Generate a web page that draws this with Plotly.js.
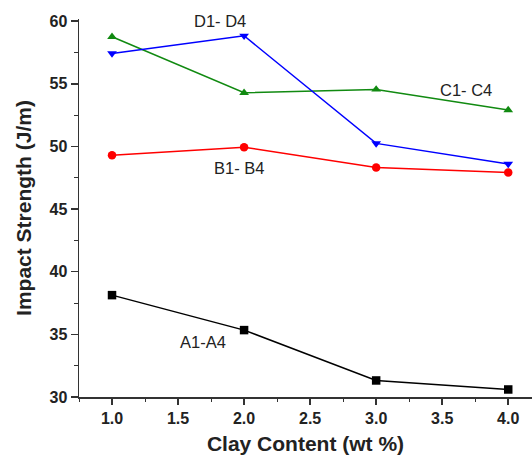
<!DOCTYPE html>
<html>
<head>
<meta charset="utf-8">
<script src="https://cdn.plot.ly/plotly-3.0.1.min.js"></script>
<style>html,body{margin:0;padding:0;background:#fff;}#chart{width:532px;height:457px;}</style>
</head>
<body>
<div id="chart"></div>
<script>
const clay = [1.0, 2.0, 3.0, 4.0];
const seriesA = [38.13, 35.34, 31.32, 30.6];
const seriesB = [49.3, 49.94, 48.32, 47.92];
const seriesC = [58.75, 54.28, 54.55, 52.9];
const seriesD = [57.42, 58.83, 50.24, 48.6];
const seriesNames = ["A1-A4", "B1- B4", "C1- C4", "D1- D4"];
const xTicks = [1.0, 1.5, 2.0, 2.5, 3.0, 3.5, 4.0];
const xTickText = ["1.0", "1.5", "2.0", "2.5", "3.0", "3.5", "4.0"];
const yTicks = [30, 35, 40, 45, 50, 55, 60];

const F = "Arial, 'Liberation Sans', sans-serif";
function tr(y, name, color, symbol) {
  return {x: clay, y: y, name: name, type: 'scatter', mode: 'lines+markers',
    line: {color: color, width: 1.5},
    marker: {color: color, symbol: symbol, size: 8.5}};
}
const data = [
  tr(seriesA, seriesNames[0], '#000000', 'square'),
  tr(seriesB, seriesNames[1], '#ff0000', 'circle'),
  tr(seriesC, seriesNames[2], '#118a11', 'triangle-up'),
  tr(seriesD, seriesNames[3], '#0000ff', 'triangle-down')
];
function lab(text, x, y) {
  return {text: text, x: x, y: y, xref: 'x', yref: 'y', showarrow: false,
    font: {family: F, size: 16.5, color: '#222'}};
}
const layout = {
  width: 532, height: 457,
  margin: {l: 79, r: 0, t: 19, b: 60},
  paper_bgcolor: '#fff', plot_bgcolor: '#fff',
  showlegend: false,
  font: {family: F, color: '#222'},
  xaxis: {
    range: [0.75, 4.18], showgrid: false, zeroline: false,
    showline: true, linecolor: '#333', linewidth: 1.5,
    ticks: 'outside', ticklen: 6, tickwidth: 1.5, tickcolor: '#333',
    tickvals: xTicks, ticktext: xTickText,
    tickfont: {family: F, size: 16, weight: 'bold', color: '#222'},
    minor: {dtick: 0.25, tick0: 0.75, ticks: 'outside', ticklen: 3, tickcolor: '#333', tickwidth: 1, showgrid: false},
    title: {text: 'Clay Content (wt %)', font: {family: F, size: 21, weight: 'bold', color: '#222'}, standoff: 10}
  },
  yaxis: {
    range: [30, 60.17], showgrid: false, zeroline: false,
    showline: true, linecolor: '#333', linewidth: 1.5,
    ticks: 'outside', ticklen: 7, tickwidth: 1.5, tickcolor: '#333',
    tickvals: yTicks,
    tickfont: {family: F, size: 16, weight: 'bold', color: '#222'},
    minor: {dtick: 2.5, tick0: 30, ticks: 'outside', ticklen: 4, tickcolor: '#333', tickwidth: 1, showgrid: false},
    title: {text: 'Impact Strength (J/m)', font: {family: F, size: 21, weight: 'bold', color: '#222'}, standoff: 12}
  },
  annotations: [
    lab(seriesNames[0], 1.69, 34.4),
    lab(seriesNames[1], 1.96, 48.3),
    lab(seriesNames[2], 3.68, 54.5),
    lab(seriesNames[3], 1.82, 60.0)
  ]
};
Plotly.newPlot('chart', data, layout, {displayModeBar: false, staticPlot: true});
</script>
</body>
</html>
